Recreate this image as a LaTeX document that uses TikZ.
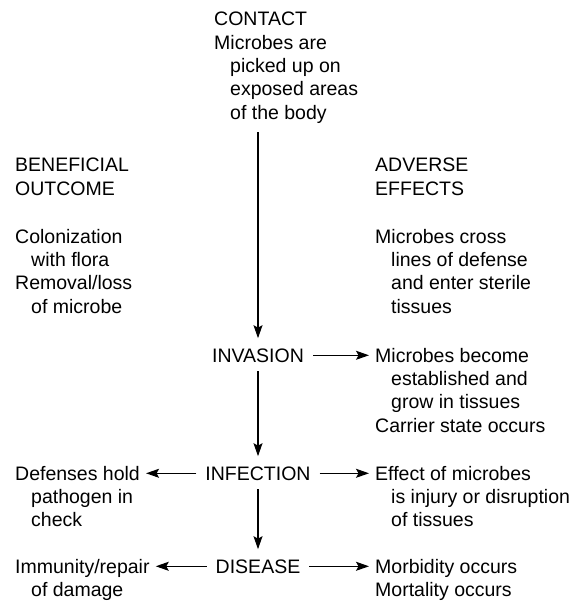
\documentclass[tikz,border=0pt]{standalone}
\usepackage{fontspec}
\setmainfont{Liberation Sans}
\usepackage{tikz}
\usetikzlibrary{arrows.meta}

\newcommand{\shiftin}{\hspace*{16bp}} % indent of the follow-on lines

\tikzset{
	blocktext/.style={inner sep=0pt, anchor=north west, align=left, font=\fontsize{19.5bp}{23.3bp}\selectfont},
	stage/.style={inner sep=0pt, anchor=base, font=\fontsize{19.5bp}{23.3bp}\selectfont},
	flow/.style={line width=1.1bp, -{Stealth[length=13bp,width=9bp,inset=2.5bp]}, shorten <=9bp, shorten >=6bp},
	down/.style={flow, shorten >=10bp}
}

\begin{document}
\begin{tikzpicture}[x=1bp, y=-1bp]

	%	\foreach \i in {0,50,...,550} {
	%		\draw [very thin,gray] (\i,0) -- (\i,602);
	%	}
	%	\foreach \i in {0,50,...,600} {
	%		\draw [very thin,gray] (0,\i) -- (573,\i);
	%	}

	\useasboundingbox (0,0) rectangle (573,602);

	\node[blocktext] (contact) at (214,12) {CONTACT\\Microbes are\\\shiftin picked up on\\\shiftin exposed areas\\\shiftin of the body};

	\node[blocktext] (benefit) at (15,158) {BENEFICIAL\\OUTCOME};
	\node[blocktext] (colonize) at (15,229) {Colonization\\\shiftin with flora\\Removal/loss\\\shiftin of microbe};

	\node[blocktext] (adverse) at (375,158) {ADVERSE\\EFFECTS};
	\node[blocktext] (cross) at (375,229) {Microbes cross\\\shiftin lines of defense\\\shiftin and enter sterile\\\shiftin tissues};

	\node[stage] (invasion) at (258,362) {INVASION};
	\node[stage] (infection) at (258,480) {INFECTION};
	\node[stage] (disease) at (258,573) {DISEASE};

	\node[blocktext] (establish) at (375,348) {Microbes become\\\shiftin established and\\\shiftin grow in tissues\\Carrier state occurs};
	\node[blocktext] (effect) at (375,466) {Effect of microbes\\\shiftin is injury or disruption\\\shiftin of tissues};
	\node[blocktext] (defense) at (15,466) {Defenses hold\\\shiftin pathogen in\\\shiftin check};
	\node[blocktext] (immunity) at (15,559) {Immunity/repair\\\shiftin of damage};
	\node[blocktext] (morbid) at (375,559) {Morbidity occurs\\Mortality occurs};

	%	\draw[flow] (contact.south) -- (invasion.north);

	\draw[down] (contact.south -| invasion.north) -- (invasion.north);
	\draw[down] (invasion.south) -- (infection.north);
	\draw[down] (infection.south) -- (disease.north);

	\draw[flow] (invasion.east) -- (invasion.east -| establish.west);
	\draw[flow] (infection.east) -- (infection.east -| effect.west);
	\draw[flow] (infection.west) -- (infection.west -| defense.east);
	\draw[flow] (disease.west) -- (disease.west -| immunity.east);
	\draw[flow] (disease.east) -- (disease.east -| morbid.west);
\end{tikzpicture}
\end{document}
